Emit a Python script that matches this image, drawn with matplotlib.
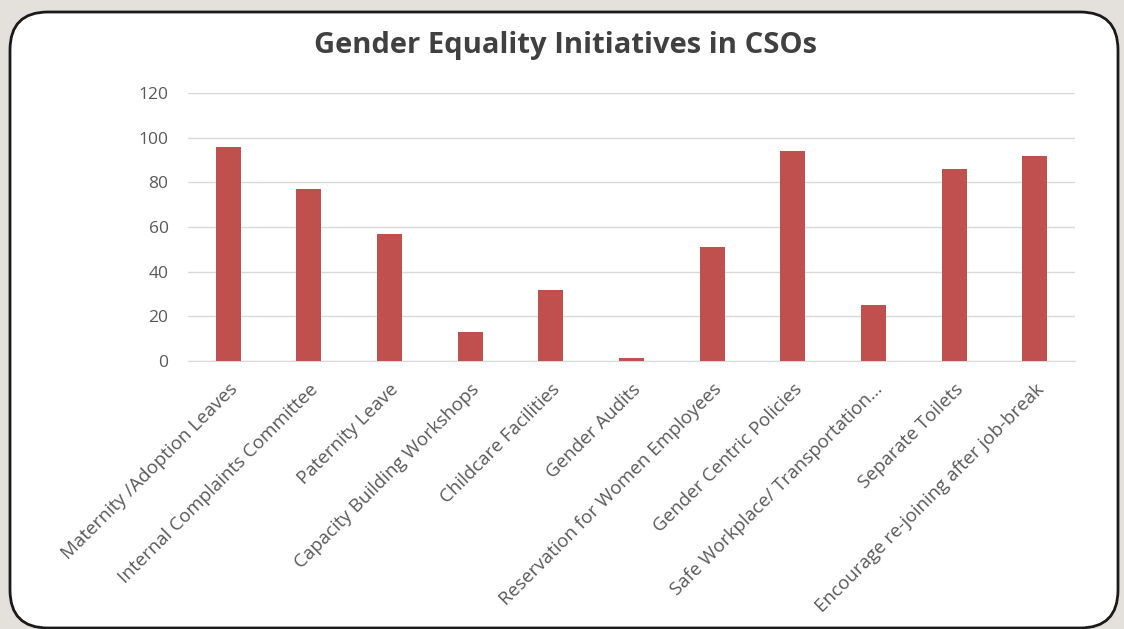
import matplotlib
matplotlib.use('Agg')
import matplotlib.pyplot as plt
from matplotlib.patches import FancyBboxPatch

categories = ['Maternity /Adoption Leaves', 'Internal Complaints Committee', 'Paternity Leave',
              'Capacity Building Workshops', 'Childcare Facilities', 'Gender Audits',
              'Reservation for Women Employees', 'Gender Centric Policies',
              'Safe Workplace/ Transportation...', 'Separate Toilets',
              'Encourage re-joining after job-break']
values = [96, 77, 57, 13, 32, 1.5, 51, 94, 25, 86, 92]
yticks = [0, 20, 40, 60, 80, 100, 120]

W, H = 1124, 629
fig = plt.figure(figsize=(W / 100, H / 100), dpi=100)
fig.patch.set_facecolor('#e4e0dc')

# background layer in pixel units, holds the white rounded card
bg = fig.add_axes([0, 0, 1, 1], zorder=-1)
bg.set_xlim(0, W)
bg.set_ylim(H, 0)
bg.axis('off')
bg.add_patch(FancyBboxPatch((10, 12), 1108, 616, boxstyle='round,pad=0,rounding_size=38',
                            facecolor='white', edgecolor='#1a1a1a', linewidth=2))

fig.text(565 / W, 1 - 45 / H, 'Gender Equality Initiatives in CSOs', ha='center', va='center',
         fontsize=21, fontweight='bold', color='#404040', family='Open Sans')

ax = fig.add_axes([188 / W, 1 - 361 / H, 887 / W, 268 / H])
ax.set_facecolor('none')
x = range(len(categories))
ax.bar(x, values, width=0.31, color='#C0504D', zorder=3)
ax.set_xlim(-0.5, len(categories) - 0.5)
ax.set_ylim(0, 120)
ax.set_yticks(yticks)
ax.grid(axis='y', color='#d9d9d9', linewidth=1, zorder=0)
for s in ['top', 'right', 'left']:
    ax.spines[s].set_visible(False)
ax.spines['bottom'].set_color('#d9d9d9')
ax.tick_params(length=0, colors='#595959')
ax.tick_params(axis='y', pad=14, labelsize=12.5)
ax.tick_params(axis='x', pad=14, labelsize=13.5)
ax.set_xticks(list(x))
ax.set_xticklabels(categories, rotation=45, ha='right', rotation_mode='anchor',
                   family='Open Sans', color='#595959')
for lab in ax.get_yticklabels():
    lab.set_family('Open Sans')

fig.savefig('out.png', dpi=100, facecolor=fig.get_facecolor())
